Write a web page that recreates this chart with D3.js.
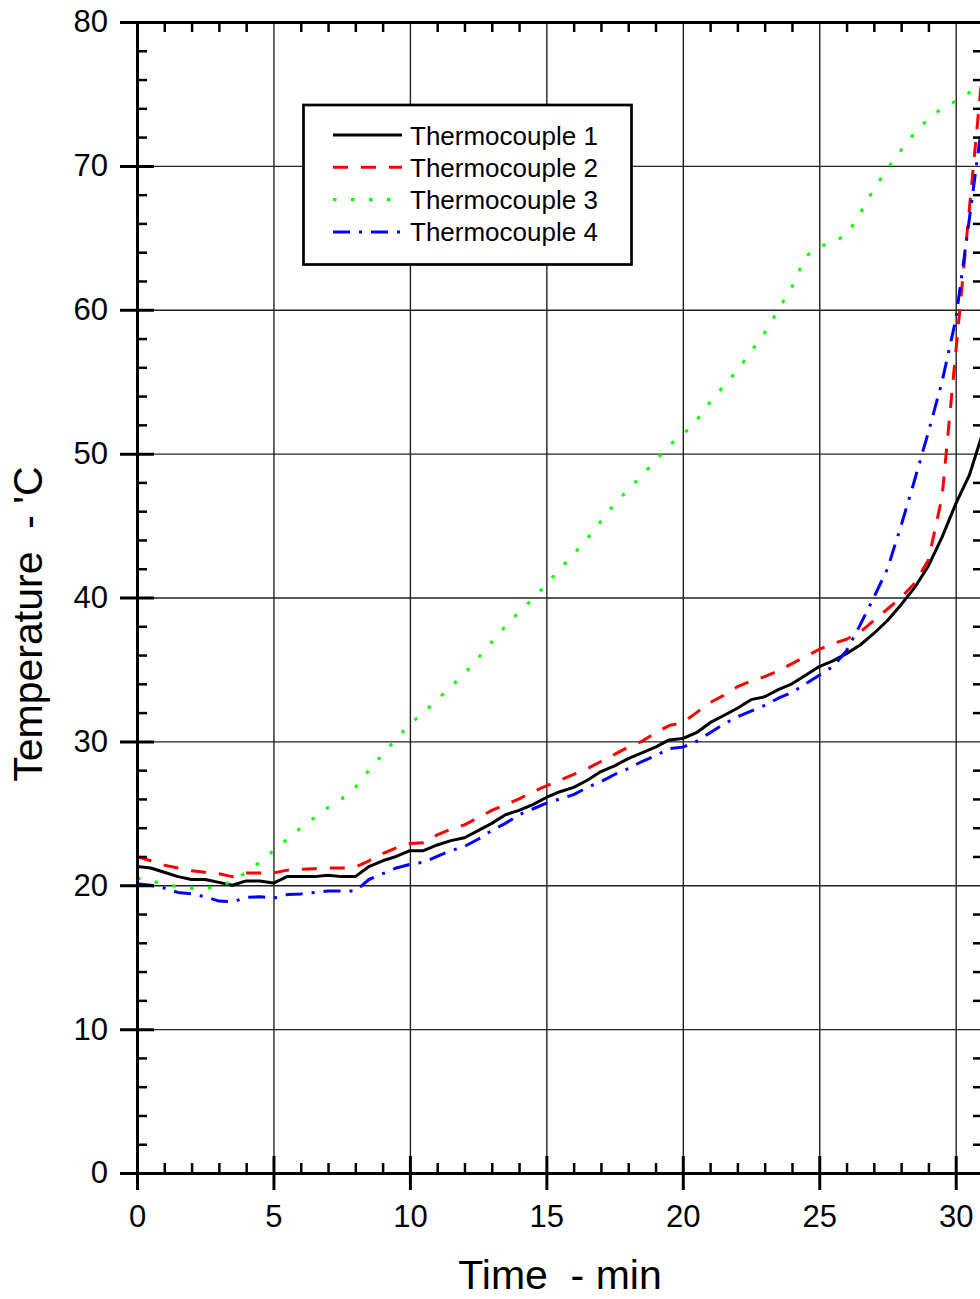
<!DOCTYPE html>
<html>
<head>
<meta charset="utf-8">
<script src="https://cdn.jsdelivr.net/npm/d3@7"></script>
<style>
  body { margin: 0; background: #fff; }
  svg { display: block; font-family: "Liberation Sans", Arial, sans-serif; }
</style>
</head>
<body>
<div id="chart"></div>
<script>
// time in minutes, readings every 30 s
const times = [0, 0.5, 1, 1.5, 2, 2.5, 3, 3.5, 4, 4.5, 5, 5.5, 6, 6.5, 7, 7.5, 8, 8.5, 9, 9.5,
  10, 10.5, 11, 11.5, 12, 12.5, 13, 13.5, 14, 14.5, 15, 15.5, 16, 16.5, 17, 17.5, 18, 18.5, 19, 19.5,
  20, 20.5, 21, 21.5, 22, 22.5, 23, 23.5, 24, 24.5, 25, 25.5, 26, 26.5, 27, 27.5, 28, 28.5, 29, 29.5,
  30, 30.5, 31];
const tc1 = [21.3, 21.2, 20.9, 20.6, 20.4, 20.4, 20.2, 20.0, 20.3, 20.3, 20.15, 20.6, 20.6, 20.6, 20.7, 20.6, 20.6, 21.3, 21.7, 22.0,
  22.4, 22.4, 22.8, 23.1, 23.3, 23.8, 24.3, 24.9, 25.2, 25.6, 26.1, 26.5, 26.8, 27.3, 27.9, 28.3, 28.8, 29.2, 29.6, 30.1,
  30.2, 30.6, 31.3, 31.8, 32.3, 32.9, 33.1, 33.6, 34.0, 34.6, 35.2, 35.6, 36.1, 36.7, 37.5, 38.4, 39.5, 40.7, 42.2, 44.2,
  46.5, 48.5, 51.5];
const tc2 = [22.0, 21.7, 21.4, 21.2, 21.0, 20.9, 20.8, 20.6, 20.85, 20.85, 20.85, 21.05, 21.1, 21.15, 21.2, 21.2, 21.25, 21.7, 22.2, 22.6,
  22.9, 22.95, 23.5, 23.9, 24.2, 24.7, 25.2, 25.6, 26.0, 26.5, 26.9, 27.3, 27.7, 28.1, 28.6, 29.1, 29.6, 30.0, 30.6, 31.1,
  31.3, 32.0, 32.7, 33.2, 33.8, 34.2, 34.5, 34.9, 35.4, 35.9, 36.4, 36.8, 37.1, 37.6, 38.4, 39.2, 40.0, 41.0, 42.6, 47.0,
  57.0, 67.0, 77.0];
const tc3 = [20.5, 20.3, 20.1, 19.9, 19.8, 19.8, 19.9, 20.3, 20.9, 21.6, 22.4, 23.2, 24.0, 24.7, 25.4, 26.0, 26.8, 28.0, 29.1, 30.2,
  31.2, 32.0, 32.9, 33.8, 34.7, 35.8, 36.9, 38.0, 39.0, 39.9, 40.9, 42.0, 43.0, 44.1, 45.3, 46.5, 47.5, 48.5, 49.5, 50.6,
  51.3, 52.3, 53.6, 54.7, 55.8, 57.1, 58.4, 60.0, 61.6, 63.7, 64.4, 64.7, 65.2, 66.7, 68.4, 69.8, 71.1, 72.3, 73.3, 74.0,
  74.5, 75.1, 75.8];
const tc4 = [20.1, 20.0, 19.8, 19.5, 19.4, 19.2, 18.9, 18.85, 19.15, 19.2, 19.1, 19.35, 19.4, 19.5, 19.6, 19.6, 19.6, 20.4, 20.8, 21.2,
  21.45, 21.6, 22.0, 22.4, 22.7, 23.2, 23.8, 24.3, 24.9, 25.3, 25.7, 26.0, 26.3, 26.8, 27.2, 27.7, 28.1, 28.6, 29.0, 29.5,
  29.6, 30.0, 30.6, 31.2, 31.7, 32.1, 32.5, 33.0, 33.4, 34.0, 34.6, 35.2, 36.3, 38.1, 40.0, 42.0, 45.0, 48.2, 51.5, 55.0,
  59.3, 66.3, 73.5];

const seriesNames = ["Thermocouple 1", "Thermocouple 2", "Thermocouple 3", "Thermocouple 4"];
const seriesColors = ["#000000", "#ff0000", "#00ff00", "#0000ff"];
const seriesDashes = [null, "15,13", "3.5,14.5", "17,9,3,9"];
const xMajorTicks = [0, 5, 10, 15, 20, 25, 30];
const yMajorTicks = [0, 10, 20, 30, 40, 50, 60, 70, 80];

const width = 980, height = 1299;
const plotLeft = 137, plotRight = 983, plotTop = 22, plotBottom = 1173;

let x = d3.scaleLinear().domain([0, 31]).range([plotLeft, plotRight]);
let y = d3.scaleLinear().domain([0, 80]).range([plotBottom, plotTop]);

let xMinor = x.ticks(31).filter(d => d % 5 !== 0);
let yMinor = y.ticks(40).filter(d => d % 10 !== 0);

let svg = d3.select("#chart").append("svg")
  .attr("width", width)
  .attr("height", height);

// grid
svg.append("g")
  .attr("transform", `translate(0,${plotBottom})`)
  .call(d3.axisBottom(x).tickValues(xMajorTicks.slice(1)).tickSize(-(plotBottom - plotTop)).tickFormat(""))
  .call(g => g.select(".domain").remove())
  .selectAll("line").attr("stroke", "#222").attr("stroke-width", 1.4);
svg.append("g")
  .attr("transform", `translate(${plotLeft},0)`)
  .call(d3.axisLeft(y).tickValues(yMajorTicks.slice(1, -1)).tickSize(-(plotRight - plotLeft)).tickFormat(""))
  .call(g => g.select(".domain").remove())
  .selectAll("line").attr("stroke", "#222").attr("stroke-width", 1.4);

// series
svg.append("clipPath").attr("id", "plot-clip")
  .append("rect")
  .attr("x", plotLeft).attr("y", plotTop)
  .attr("width", plotRight - plotLeft).attr("height", plotBottom - plotTop);

let series = [tc1, tc2, tc3, tc4].map((vals, i) => ({
  name: seriesNames[i],
  color: seriesColors[i],
  dash: seriesDashes[i],
  points: times.map((t, j) => [t, vals[j]])
}));

let line = d3.line()
  .x(d => x(d[0]))
  .y(d => y(d[1]));

svg.append("g")
  .attr("clip-path", "url(#plot-clip)")
  .selectAll("path")
  .data(series)
  .enter().append("path")
  .attr("d", d => line(d.points))
  .attr("fill", "none")
  .attr("stroke", d => d.color)
  .attr("stroke-width", 3)
  .attr("stroke-linejoin", "round")
  .attr("stroke-dasharray", d => d.dash);

// axes
function styleAxis(g, size) {
  g.attr("font-family", "'Liberation Sans', Arial, sans-serif").attr("font-size", size);
  g.selectAll("text").attr("fill", "#000");
  g.selectAll("line").attr("stroke", "#000");
  g.select(".domain").attr("stroke", "#000").attr("stroke-width", 3).attr("stroke-linecap", "square");
}

let xAxis = svg.append("g")
  .attr("transform", `translate(0,${plotBottom})`)
  .call(d3.axisBottom(x).tickValues(xMajorTicks).tickSize(17).tickSizeOuter(0).tickPadding(15))
  .call(styleAxis, 31);
xAxis.selectAll(".tick line").attr("y1", -17).attr("stroke-width", 3);

svg.append("g")
  .attr("transform", `translate(0,${plotBottom})`)
  .call(d3.axisTop(x).tickValues(xMinor).tickSize(10).tickFormat(""))
  .call(g => g.select(".domain").remove())
  .selectAll("line").attr("stroke", "#000").attr("stroke-width", 2.5);

svg.append("g")
  .attr("transform", `translate(0,${plotTop})`)
  .call(d3.axisBottom(x).tickValues(xMinor).tickSize(10).tickSizeOuter(0).tickFormat(""))
  .call(styleAxis, 31)
  .selectAll(".tick line").attr("stroke-width", 2.5);

let yAxis = svg.append("g")
  .attr("transform", `translate(${plotLeft},0)`)
  .call(d3.axisLeft(y).tickValues(yMajorTicks).tickSize(17).tickSizeOuter(0).tickPadding(12))
  .call(styleAxis, 31);
yAxis.selectAll(".tick line").attr("x1", 17).attr("stroke-width", 3);

svg.append("g")
  .attr("transform", `translate(${plotLeft},0)`)
  .call(d3.axisRight(y).tickValues(yMinor).tickSize(10).tickFormat(""))
  .call(g => g.select(".domain").remove())
  .selectAll("line").attr("stroke", "#000").attr("stroke-width", 2.5);

svg.append("g")
  .attr("transform", `translate(${plotRight},0)`)
  .call(d3.axisLeft(y).tickValues(yMinor).tickSize(10).tickSizeOuter(0).tickFormat(""))
  .call(styleAxis, 31)
  .selectAll(".tick line").attr("stroke-width", 2.5);

// axis titles
svg.append("text")
  .attr("x", 560)
  .attr("y", 1289)
  .attr("text-anchor", "middle")
  .attr("font-size", 41)
  .style("white-space", "pre")
  .text("Time  - min");

svg.append("text")
  .attr("transform", "translate(42,624) rotate(-90)")
  .attr("text-anchor", "middle")
  .attr("font-size", 41)
  .style("white-space", "pre")
  .text("Temperature  - 'C");

// legend
let legend = svg.append("g");
legend.append("rect")
  .attr("x", 303.5).attr("y", 105)
  .attr("width", 328).attr("height", 159.5)
  .attr("fill", "#fff")
  .attr("stroke", "#000")
  .attr("stroke-width", 2.7);

let rows = legend.selectAll(".row")
  .data(series)
  .enter().append("g")
  .attr("class", "row")
  .attr("transform", (d, i) => `translate(0,${135 + i * 32.3})`);
rows.append("line")
  .attr("x1", 333).attr("x2", 402)
  .attr("stroke", d => d.color)
  .attr("stroke-width", 3)
  .attr("stroke-dasharray", d => d.dash);
rows.append("text")
  .attr("x", 410)
  .attr("y", 9.5)
  .attr("font-size", 26)
  .text(d => d.name);
</script>
</body>
</html>
